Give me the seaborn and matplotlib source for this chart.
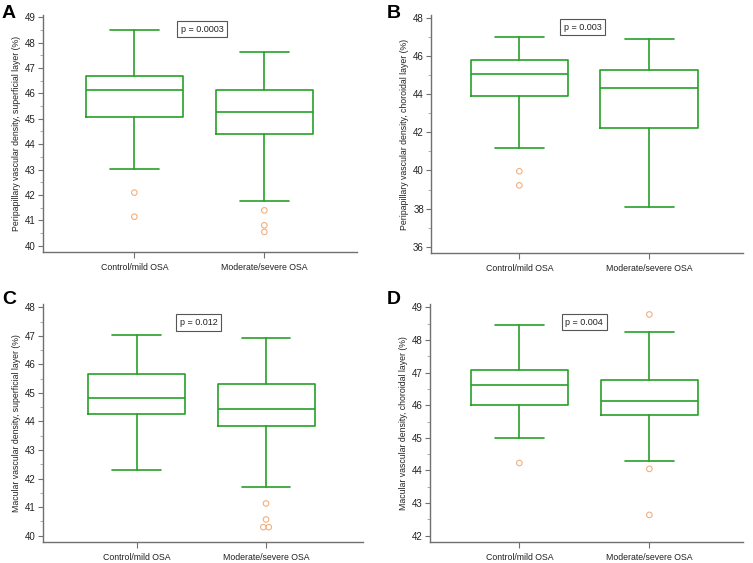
import matplotlib
matplotlib.use("Agg")
import matplotlib.pyplot as plt
import seaborn as sns
import numpy as np

groups = ["Control/mild OSA", "Moderate/severe OSA"]

# five-number summaries per group: lower whisker, Q1, median, Q3, upper whisker
a_stats = [[43.03, 45.06, 46.12, 46.69, 48.49], [41.77, 44.39, 45.28, 46.15, 47.63]]
a_outliers = [[42.09, 41.14], [41.39, 40.80, 40.54]]

b_stats = [[41.20, 43.94, 45.07, 45.83, 47.02], [38.07, 42.22, 44.36, 45.30, 46.90]]
b_outliers = [[39.96, 39.22], []]

c_stats = [[42.30, 44.25, 44.81, 45.66, 47.02], [41.69, 43.83, 44.45, 45.31, 46.94]]
c_outliers = [[], [41.13, 40.57, 40.30, 40.30]]

d_stats = [[45.01, 46.00, 46.63, 47.09, 48.45], [44.28, 45.69, 46.13, 46.78, 48.24]]
d_outliers = [[44.23], [48.78, 44.05, 42.64]]

p_values = ["p = 0.0003", "p = 0.003", "p = 0.012", "p = 0.004"]
letters = ["A", "B", "C", "D"]
ylabels = [
    "Peripapillary vascular density, superficial layer (%)",
    "Peripapillary vascular density, choroidal layer (%)",
    "Macular vascular density, superficial layer (%)",
    "Macular vascular density, choroidal layer (%)",
]

sns.set_theme(style="ticks")
plt.rcParams["font.family"] = ["Liberation Sans", "DejaVu Sans"]

GREEN = "#27a027"
ORANGE = "#f0b080"
AXIS = "#707070"
TEXT = "#222222"
W, H = 753, 563

fig = plt.figure(figsize=(W / 100, H / 100), dpi=100)

# pixel layout: left, right, top, bottom of each panel
panels = [
    dict(stats=a_stats, out=a_outliers, px=(42.7, 357, 14.8, 251.7), ylim=(39.76, 49.1),
         xlim=(0.295, 2.713), ticks=(40, 49, 1), pxy=(1.52, 48.54), lpx=(2, 5)),
    dict(stats=b_stats, out=b_outliers, px=(431, 742.7, 15.4, 252.7), ylim=(35.68, 48.15),
         xlim=(0.32, 2.72), ticks=(36, 48, 2), pxy=(1.49, 47.53), lpx=(387, 5)),
    dict(stats=c_stats, out=c_outliers, px=(42.7, 363, 304.4, 542.3), ylim=(39.77, 48.1),
         xlim=(0.273, 2.75), ticks=(40, 48, 1), pxy=(1.48, 47.47), lpx=(2, 291)),
    dict(stats=d_stats, out=d_outliers, px=(430, 742.7, 304.0, 542.3), ylim=(41.80, 49.1),
         xlim=(0.313, 2.718), ticks=(42, 49, 1), pxy=(1.50, 48.54), lpx=(387, 291)),
]

for i, p in enumerate(panels):
    l, r, t, b = p["px"]
    ax = fig.add_axes([l / W, 1 - b / H, (r - l) / W, (b - t) / H])

    # only summary values are known, so the boxes go through matplotlib's bxp
    bx = []
    for g, s in zip(groups, p["stats"]):
        bx.append(dict(whislo=s[0], q1=s[1], med=s[2], q3=s[3], whishi=s[4], fliers=[], label=g))
    line = dict(color=GREEN, linewidth=1.2)
    ax.bxp(bx, positions=[1, 2], widths=0.75, capwidths=0.375, showfliers=False,
           boxprops=line, whiskerprops=line, capprops=line, medianprops=line)

    # outliers, with equal values nudged side by side
    xs, ys = [], []
    for k, vals in enumerate(p["out"]):
        vals = np.array(vals)
        for v in np.unique(vals):
            n = int((vals == v).sum())
            for j in range(n):
                xs.append(k + 1 + (j - (n - 1) / 2) * 0.042)
                ys.append(v)
    if xs:
        sns.scatterplot(x=xs, y=ys, ax=ax, marker="o", s=16, facecolor="none",
                        edgecolor=ORANGE, linewidth=0.8, zorder=3, legend=False)

    ax.set_xlim(*p["xlim"])
    ax.set_ylim(*p["ylim"])
    lo, hi, step = p["ticks"]
    ax.set_yticks(np.arange(lo, hi + 0.01, step))
    ax.set_yticks(np.arange(lo + step / 2, hi, step), minor=True)
    ax.set_xticks([1, 2])
    ax.set_xticklabels(groups)
    ax.tick_params(axis="both", which="major", labelsize=6.3, length=4, width=0.8,
                   color=AXIS, labelcolor=TEXT, pad=2)
    ax.tick_params(axis="y", which="major", labelsize=7, length=3.5, pad=1.5)
    ax.tick_params(axis="y", which="minor", length=2.5, width=0.6, color="#a0a0a0")
    ax.tick_params(axis="x", which="major", pad=4)
    for side in ["top", "right"]:
        ax.spines[side].set_visible(False)
    for side in ["left", "bottom"]:
        ax.spines[side].set_color(AXIS)
        ax.spines[side].set_linewidth(1.0)
    ax.set_ylabel(ylabels[i], fontsize=6.3, color=TEXT, labelpad=3)
    ax.set_xlabel("")
    ax.text(p["pxy"][0], p["pxy"][1], p_values[i], fontsize=6.5, ha="center", va="center",
            color=TEXT,
            bbox=dict(boxstyle="square,pad=0.4", facecolor="white", edgecolor="#555555", linewidth=0.8))
    fig.text(p["lpx"][0] / W, 1 - p["lpx"][1] / H, letters[i], fontsize=14, fontweight="bold",
             ha="left", va="top", color="black")

fig.savefig("out.png", dpi=100)
